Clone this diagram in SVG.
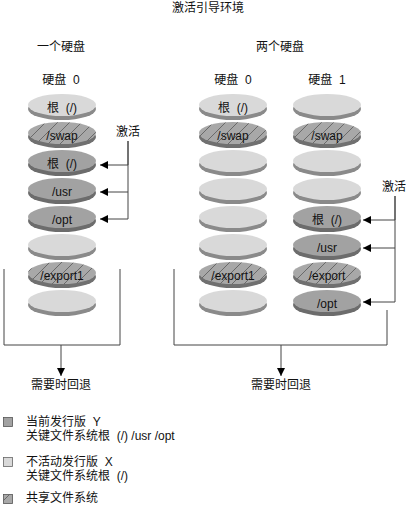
<svg xmlns="http://www.w3.org/2000/svg" width="406" height="505" viewBox="0 0 406 505">
<defs>
<pattern id="hatch" patternUnits="userSpaceOnUse" width="12" height="12">
<rect width="12" height="12" fill="#a8a8a8"/>
<path d="M-1,13 L13,-1" stroke="#6a6a6a" stroke-width="1"/>
</pattern>
<marker id="ah" markerUnits="userSpaceOnUse" markerWidth="9" markerHeight="9" refX="8" refY="4" orient="auto">
<path d="M0,0 L8,4 L0,8 z" fill="#000"/>
</marker>
<style>
text{font-family:"Liberation Sans","Noto Sans CJK SC",sans-serif;font-size:12px;fill:#111;text-anchor:middle}
.lt{fill:#d9d9d9}
.ls{fill:#8a8a8a}
.dt{fill:#a2a2a2}
.ds{fill:#6c6c6c}
.ht{fill:url(#hatch)}
.hs{fill:#707070}
.ln{fill:none;stroke:#444;stroke-width:1}
.lg{text-anchor:start}
</style>
</defs>

<text x="208" y="12">激活引导环境</text>
<text x="61" y="51">一个硬盘</text>
<text x="280" y="51">两个硬盘</text>
<text x="61" y="84">硬盘&#160;&#160;0</text>
<text x="233" y="84">硬盘&#160;&#160;0</text>
<text x="327" y="84">硬盘&#160;&#160;1</text>

<!-- left column (one disk) -->
<g id="L0"><ellipse class="ls" cx="62" cy="109" rx="34" ry="11"/><ellipse class="lt" cx="62" cy="105" rx="34" ry="11"/><text x="62" y="112">根&#160;&#160;(/)</text></g>
<g id="L1"><ellipse class="hs" cx="62" cy="137" rx="34" ry="11"/><ellipse class="ht" cx="62" cy="133" rx="34" ry="11"/><text x="62" y="140">/swap</text></g>
<g id="L2"><ellipse class="ds" cx="62" cy="165" rx="34" ry="11"/><ellipse class="dt" cx="62" cy="161" rx="34" ry="11"/><text x="62" y="168">根&#160;&#160;(/)</text></g>
<g id="L3"><ellipse class="ds" cx="62" cy="193" rx="34" ry="11"/><ellipse class="dt" cx="62" cy="189" rx="34" ry="11"/><text x="62" y="196">/usr</text></g>
<g id="L4"><ellipse class="ds" cx="62" cy="221" rx="34" ry="11"/><ellipse class="dt" cx="62" cy="217" rx="34" ry="11"/><text x="62" y="224">/opt</text></g>
<g id="L5"><ellipse class="ls" cx="62" cy="249" rx="34" ry="11"/><ellipse class="lt" cx="62" cy="245" rx="34" ry="11"/></g>
<g id="L6"><ellipse class="hs" cx="62" cy="277" rx="34" ry="11"/><ellipse class="ht" cx="62" cy="273" rx="34" ry="11"/><text x="62" y="280">/export1</text></g>
<g id="L7"><ellipse class="ls" cx="62" cy="305" rx="34" ry="11"/><ellipse class="lt" cx="62" cy="301" rx="34" ry="11"/></g>

<!-- right: disk 0 -->
<g id="A0"><ellipse class="ls" cx="233" cy="109" rx="34" ry="11"/><ellipse class="lt" cx="233" cy="105" rx="34" ry="11"/><text x="233" y="112">根&#160;&#160;(/)</text></g>
<g id="A1"><ellipse class="hs" cx="233" cy="137" rx="34" ry="11"/><ellipse class="ht" cx="233" cy="133" rx="34" ry="11"/><text x="233" y="140">/swap</text></g>
<g id="A2"><ellipse class="ls" cx="233" cy="165" rx="34" ry="11"/><ellipse class="lt" cx="233" cy="161" rx="34" ry="11"/></g>
<g id="A3"><ellipse class="ls" cx="233" cy="193" rx="34" ry="11"/><ellipse class="lt" cx="233" cy="189" rx="34" ry="11"/></g>
<g id="A4"><ellipse class="ls" cx="233" cy="221" rx="34" ry="11"/><ellipse class="lt" cx="233" cy="217" rx="34" ry="11"/></g>
<g id="A5"><ellipse class="ls" cx="233" cy="249" rx="34" ry="11"/><ellipse class="lt" cx="233" cy="245" rx="34" ry="11"/></g>
<g id="A6"><ellipse class="hs" cx="233" cy="277" rx="34" ry="11"/><ellipse class="ht" cx="233" cy="273" rx="34" ry="11"/><text x="233" y="280">/export1</text></g>
<g id="A7"><ellipse class="ls" cx="233" cy="305" rx="34" ry="11"/><ellipse class="lt" cx="233" cy="301" rx="34" ry="11"/></g>

<!-- right: disk 1 -->
<g id="B0"><ellipse class="ls" cx="327" cy="109" rx="34" ry="11"/><ellipse class="lt" cx="327" cy="105" rx="34" ry="11"/></g>
<g id="B1"><ellipse class="hs" cx="327" cy="137" rx="34" ry="11"/><ellipse class="ht" cx="327" cy="133" rx="34" ry="11"/><text x="327" y="140">/swap</text></g>
<g id="B2"><ellipse class="ls" cx="327" cy="165" rx="34" ry="11"/><ellipse class="lt" cx="327" cy="161" rx="34" ry="11"/></g>
<g id="B3"><ellipse class="ls" cx="327" cy="193" rx="34" ry="11"/><ellipse class="lt" cx="327" cy="189" rx="34" ry="11"/></g>
<g id="B4"><ellipse class="ds" cx="327" cy="221" rx="34" ry="11"/><ellipse class="dt" cx="327" cy="217" rx="34" ry="11"/><text x="327" y="224">根&#160;&#160;(/)</text></g>
<g id="B5"><ellipse class="ds" cx="327" cy="249" rx="34" ry="11"/><ellipse class="dt" cx="327" cy="245" rx="34" ry="11"/><text x="327" y="252">/usr</text></g>
<g id="B6"><ellipse class="hs" cx="327" cy="277" rx="34" ry="11"/><ellipse class="ht" cx="327" cy="273" rx="34" ry="11"/><text x="327" y="280">/export</text></g>
<g id="B7"><ellipse class="ds" cx="327" cy="305" rx="34" ry="11"/><ellipse class="dt" cx="327" cy="301" rx="34" ry="11"/><text x="327" y="308">/opt</text></g>

<!-- labels -->
<text x="128" y="136">激活</text>
<text x="394" y="191">激活</text>
<text x="61" y="389">需要时回退</text>
<text x="281" y="389">需要时回退</text>

<!-- connectors -->
<g id="connectors">
<path class="ln" d="M128,141 V165"/>
<path class="ln" d="M128,165 H100" marker-end="url(#ah)"/>
<path class="ln" d="M128,192 H100" marker-end="url(#ah)"/>
<path class="ln" d="M128,141 V219 H100" marker-end="url(#ah)"/>
<path class="ln" d="M395,196 V220 H363" marker-end="url(#ah)"/>
<path class="ln" d="M395,248 H363" marker-end="url(#ah)"/>
<path class="ln" d="M395,196 V302 H363" marker-end="url(#ah)"/>
<path class="ln" d="M4,269 V345 H120 V269"/>
<path class="ln" d="M61,345 V376" marker-end="url(#ah)"/>
<path class="ln" d="M174,269 V345 H387 V310"/>
<path class="ln" d="M281,345 V376" marker-end="url(#ah)"/>
</g>

<!-- legend -->
<g id="legend">
<rect x="3.5" y="417.5" width="9" height="9" fill="#a2a2a2" stroke="#555" stroke-width="0.8"/>
<text class="lg" x="26" y="426">当前发行版&#160;&#160;Y</text>
<text class="lg" x="26" y="440">关键文件系统根&#160;&#160;(/) /usr /opt</text>
<rect x="3.5" y="457.5" width="9" height="9" fill="#d9d9d9" stroke="#666" stroke-width="0.8"/>
<text class="lg" x="26" y="466">不活动发行版&#160;&#160;X</text>
<text class="lg" x="26" y="480">关键文件系统根&#160;&#160;(/)</text>
<rect x="3.5" y="494.5" width="9" height="9" fill="url(#hatch)" stroke="#555" stroke-width="0.8"/>
<text class="lg" x="26" y="502">共享文件系统</text>
</g>
</svg>
